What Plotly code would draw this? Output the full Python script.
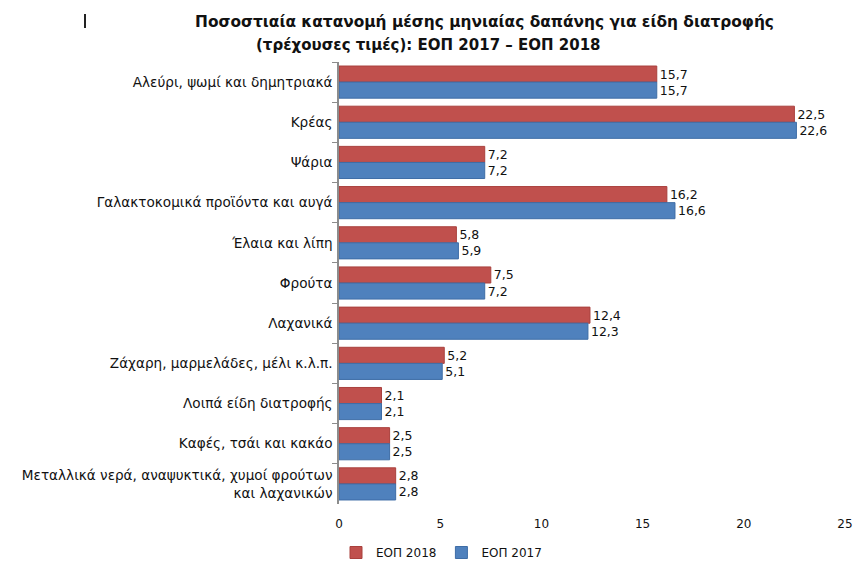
import plotly.graph_objects as go

categories = [
    "Αλεύρι, ψωμί και δημητριακά",
    "Κρέας",
    "Ψάρια",
    "Γαλακτοκομικά προϊόντα και αυγά",
    "Έλαια και λίπη",
    "Φρούτα",
    "Λαχανικά",
    "Ζάχαρη, μαρμελάδες, μέλι κ.λ.π.",
    "Λοιπά είδη διατροφής",
    "Καφές, τσάι και κακάο",
    "Μεταλλικά νερά, αναψυκτικά, χυμοί φρούτων<br>και λαχανικών",
]
eop_2018 = [15.7, 22.5, 7.2, 16.2, 5.8, 7.5, 12.4, 5.2, 2.1, 2.5, 2.8]
eop_2017 = [15.7, 22.6, 7.2, 16.6, 5.9, 7.2, 12.3, 5.1, 2.1, 2.5, 2.8]
x_ticks = [0, 5, 10, 15, 20, 25]

FONT = "DejaVu Sans"
TXT = "#111111"

W, H = 856, 562
L, R, T, B = 339, 11, 62, 58
PW, PH = W - L - R, H - T - B

fig = go.Figure()
fig.add_trace(go.Bar(
    y=categories, x=eop_2018, orientation="h", name="ΕΟΠ 2018",
    marker=dict(color="#C0504D", line=dict(color="#A9403D", width=1)),
    texttemplate="%{x:.1f}", textposition="outside",
    textfont=dict(family=FONT, size=12.5, color=TXT), cliponaxis=False,
))
fig.add_trace(go.Bar(
    y=categories, x=eop_2017, orientation="h", name="ΕΟΠ 2017",
    marker=dict(color="#4F81BD", line=dict(color="#3E6DA6", width=1)),
    texttemplate="%{x:.1f}", textposition="outside",
    textfont=dict(family=FONT, size=12.5, color=TXT), cliponaxis=False,
))

fig.update_layout(
    width=W, height=H,
    margin=dict(l=L, r=R, t=T, b=B),
    paper_bgcolor="white", plot_bgcolor="white",
    barmode="group", bargap=0.2, bargroupgap=0,
    separators=",.",
    font=dict(family=FONT, size=12, color=TXT),
    showlegend=True,
    legend=dict(orientation="h", xref="container", yref="container",
                x=336 / W, y=1 - 538 / H, xanchor="left", yanchor="top",
                font=dict(family=FONT, size=12, color=TXT),
                itemwidth=30, tracegroupgap=0),
    xaxis=dict(range=[0, 25], tickvals=x_ticks, showgrid=False, zeroline=False,
               showline=False, ticks="outside", ticklen=9, tickcolor="rgba(0,0,0,0)",
               automargin=False,
               tickfont=dict(family=FONT, size=12, color=TXT)),
    yaxis=dict(autorange="reversed", showline=True, linecolor="#8c8c8c", linewidth=1.5,
               ticks="outside", tickson="boundaries", ticklen=5, tickcolor="#8c8c8c",
               showgrid=False, automargin=False, ticklabelstandoff=2,
               tickfont=dict(family=FONT, size=13.6, color=TXT)),
    annotations=[
        dict(text="<b>Ποσοστιαία κατανομή μέσης μηνιαίας δαπάνης για είδη διατροφής</b>",
             xref="paper", yref="paper", x=(484 - L) / PW, y=1 + (T - 22) / PH,
             xanchor="center", yanchor="middle", showarrow=False,
             font=dict(family=FONT, size=15.4, color=TXT)),
        dict(text="<b>(τρέχουσες τιμές): ΕΟΠ 2017 – ΕΟΠ 2018</b>",
             xref="paper", yref="paper", x=(428 - L) / PW, y=1 + (T - 45) / PH,
             xanchor="center", yanchor="middle", showarrow=False,
             font=dict(family=FONT, size=15, color=TXT)),
    ],
    shapes=[
        dict(type="line", xref="paper", yref="paper",
             x0=(85 - L) / PW, x1=(85 - L) / PW,
             y0=1 + (T - 14) / PH, y1=1 + (T - 28) / PH,
             line=dict(color="#222222", width=2)),
    ],
)

fig.write_html("out.html")
